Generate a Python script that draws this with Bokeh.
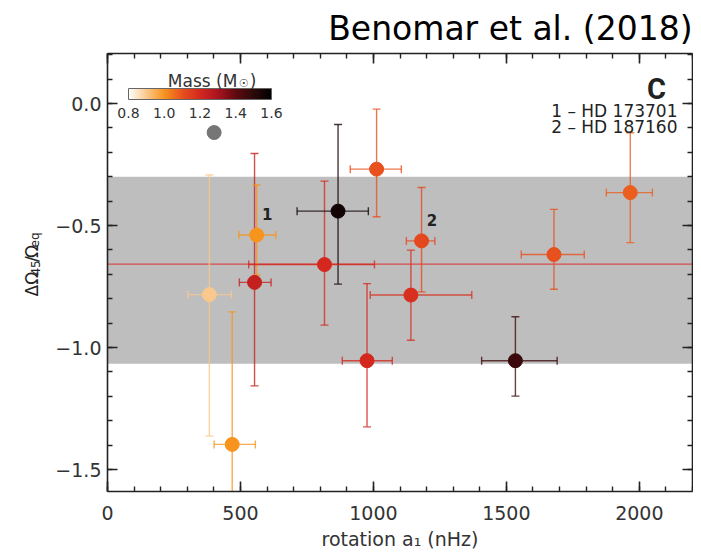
import numpy as np
from bokeh.plotting import figure
from bokeh.layouts import row
from bokeh.models import (ColumnDataSource, LinearAxis, SingleIntervalTicker, Range1d,
                          BoxAnnotation, Span, Label, ColorBar, LinearColorMapper,
                          FixedTicker, PrintfTickFormatter, CustomJSTickFormatter)
from bokeh.core.properties import value
from bokeh.embed import file_html
from bokeh.resources import INLINE

# ---------------- data ----------------
rotation = [383, 561, 553, 469, 816, 867, 1012, 976, 1181, 1141, 1679, 1966, 1534]
rot_lo   = [302, 494, 496, 401, 531, 713, 913, 883, 1124, 988, 1556, 1876, 1407]
rot_hi   = [466, 633, 615, 556, 1004, 981, 1105, 1071, 1231, 1370, 1793, 2049, 1691]
domega   = [-0.783, -0.539, -0.733, -1.397, -0.660, -0.441, -0.269, -1.054, -0.563, -0.785, -0.619, -0.365, -1.054]
dom_lo   = [-1.363, -0.703, -1.157, -1.950, -0.908, -0.740, -0.464, -1.325, -0.772, -0.970, -0.761, -0.570, -1.199]
dom_hi   = [-0.293, -0.334, -0.205, -0.854, -0.318, -0.086, -0.023, -0.738, -0.344, -0.601, -0.434, -0.120, -0.874]
mass     = [0.90, 1.00, 1.24, 1.00, 1.20, 1.56, 1.10, 1.20, 1.12, 1.18, 1.10, 1.08, 1.47]

gray_rot = [401]
gray_dom = [-0.119]

mean_dom = -0.658
band_top = -0.30
band_bottom = -1.066

star_labels = ["1", "2"]
star_idx = [1, 8]
legend_lines = ["1 – HD 173701", "2 – HD 187160"]

x_ticks_interval = 500
y_ticks = [0.0, -0.5, -1.0, -1.5]
y_tick_labels = ["0.0", "−0.5", "−1.0", "−1.5"]
cbar_ticks = [0.8, 1.0, 1.2, 1.4, 1.6]

# ---------------- colour map (white -> orange -> red -> black) ----------------
anch_m = [0.8, 0.9, 1.0, 1.1, 1.2, 1.3, 1.4, 1.5, 1.6]
anch_c = np.array([(255, 255, 255), (250, 200, 140), (247, 148, 30), (232, 80, 30),
                   (212, 40, 30), (170, 20, 32), (95, 10, 15), (45, 10, 10), (0, 0, 0)], float)

def cmap(m):
    return "#%02x%02x%02x" % tuple(int(round(np.interp(m, anch_m, anch_c[:, k]))) for k in range(3))

palette = [cmap(t) for t in np.linspace(0.8, 1.6, 256)]
mapper = LinearColorMapper(palette=palette, low=0.8, high=1.6)
colors = [cmap(m) for m in mass]

src = ColumnDataSource(dict(x=rotation, xlo=rot_lo, xhi=rot_hi,
                            y=domega, ylo=dom_lo, yhi=dom_hi, col=colors))

FONT = "DejaVu Sans"
TOTAL_H = 544
LAB_W = 50

p = figure(frame_width=585, frame_height=438,
           x_range=Range1d(0, 2200), y_range=Range1d(-1.59, 0.205),
           output_backend="svg", toolbar_location=None,
           min_border_left=107 - LAB_W, min_border_right=1, min_border_top=52, min_border_bottom=54)
p.xgrid.visible = False
p.ygrid.visible = False
p.outline_line_color = None
p.background_fill_color = "white"

p.title.text = "Benomar et al. (2018)"
p.title.align = "right"
p.title.text_font = FONT
p.title.text_font_style = "normal"
p.title.text_font_size = "33px"
p.title.text_color = "black"
p.title.standoff = 12

def style_axis(ax, ticker, labels=True):
    ax.ticker = ticker
    ax.axis_line_color = "#222222"
    ax.axis_line_width = 1.6
    ax.major_tick_line_color = "#222222"
    ax.minor_tick_line_color = "#222222"
    ax.major_tick_line_width = 1.6
    ax.minor_tick_line_width = 1.4
    ax.major_tick_in = 10
    ax.major_tick_out = 0
    ax.minor_tick_in = 5
    ax.minor_tick_out = 0
    ax.major_label_text_font = FONT
    ax.major_label_text_font_size = "19px"
    ax.major_label_text_color = "#333333"
    if not labels:
        ax.formatter = CustomJSTickFormatter(code="return ''")
        ax.major_label_standoff = 0
        ax.major_label_text_font_size = "0px"

xt = lambda: SingleIntervalTicker(interval=x_ticks_interval, num_minor_ticks=5)
yt = lambda: SingleIntervalTicker(interval=0.5, num_minor_ticks=5)

style_axis(p.xaxis[0], xt())
style_axis(p.yaxis[0], yt())
p.xaxis.major_label_standoff = 14
p.yaxis.major_label_standoff = 6
p.yaxis.major_label_overrides = {t: l for t, l in zip(y_ticks, y_tick_labels)}
p.xaxis.axis_label = "rotation a₁ (nHz)"
p.xaxis.axis_label_text_font = FONT
p.xaxis.axis_label_text_font_style = "normal"
p.xaxis.axis_label_text_font_size = "19px"
p.xaxis.axis_label_text_color = "#333333"
p.xaxis.axis_label_standoff = 5

top_ax = LinearAxis()
style_axis(top_ax, xt(), labels=False)
p.add_layout(top_ax, "above")
right_ax = LinearAxis()
style_axis(right_ax, yt(), labels=False)
p.add_layout(right_ax, "right")

# band and mean line
p.add_layout(BoxAnnotation(bottom=band_bottom, top=band_top, fill_color="#bebebe",
                           fill_alpha=1.0, line_color=None, level="underlay"))
p.add_layout(Span(location=mean_dom, dimension="width", line_color="#d94a4a",
                  line_width=1.4, level="underlay"))

# error bars
EB_A = 0.78
p.segment(x0="x", y0="ylo", x1="x", y1="yhi", source=src, line_color="col",
          line_alpha=EB_A, line_width=1.4)
p.segment(x0="xlo", y0="y", x1="xhi", y1="y", source=src, line_color="col",
          line_alpha=EB_A, line_width=1.4)
for xs, ys, ang in (("x", "ylo", 0.0), ("x", "yhi", 0.0), ("xlo", "y", np.pi / 2), ("xhi", "y", np.pi / 2)):
    p.scatter(x=xs, y=ys, source=src, marker="dash", size=8, angle=ang,
              line_color="col", line_alpha=EB_A, line_width=1.4, fill_color=None)

# points
p.scatter(x="x", y="y", source=src, size=14, fill_color="col", line_color="col")
p.scatter(x=gray_rot, y=gray_dom, size=14, fill_color="#757575", line_color="#757575")

# star labels
p.text(x=[rotation[i] for i in star_idx], y=[domega[i] for i in star_idx], text=star_labels,
       text_font=value(FONT), text_font_style="bold", text_font_size="15px",
       text_color="#222222", x_offset=10.5, y_offset=-21,
       text_align="center", text_baseline="middle")

# panel letter and legend
p.add_layout(Label(x=549, y=403, x_units="screen", y_units="screen", text="C",
                   text_align="center", text_baseline="alphabetic", text_font="Roboto",
                   text_font_style="bold", text_font_size="29px", text_color="#222222"))
for txt, yy in zip(legend_lines, [380.7, 365.0]):
    p.add_layout(Label(x=570, y=yy, x_units="screen", y_units="screen", text=txt,
                       text_align="right", text_baseline="alphabetic", text_font=FONT,
                       text_font_size="17px", text_color="#222222"))

# colour bar
cb = ColorBar(color_mapper=mapper, orientation="horizontal", width=143, height=11,
              location=(21, 371), padding=0, margin=0,
              ticker=FixedTicker(ticks=cbar_ticks), formatter=PrintfTickFormatter(format="%.1f"),
              label_standoff=8, major_label_text_font=FONT, major_label_text_font_size="14px",
              major_label_text_color="#333333", major_tick_line_color=None,
              minor_tick_line_color=None, bar_line_color="#666666", bar_line_width=1,
              border_line_color=None, background_fill_alpha=0.0)
p.add_layout(cb)
p.add_layout(Label(x=60.3, y=411, x_units="screen", y_units="screen", text="Mass (M",
                   text_align="left", text_baseline="alphabetic", text_font=FONT,
                   text_font_size="17px", text_color="#333333"))
p.add_layout(Label(x=131.3, y=408, x_units="screen", y_units="screen", text="☉",
                   text_align="left", text_baseline="alphabetic", text_font=FONT,
                   text_font_size="11px", text_color="#333333"))
p.add_layout(Label(x=142.3, y=411, x_units="screen", y_units="screen", text=")",
                   text_align="left", text_baseline="alphabetic", text_font=FONT,
                   text_font_size="17px", text_color="#333333"))

# ---------------- y axis label panel: ΔΩ_45 / Ω_eq (rotated) ----------------
lab = figure(width=LAB_W, height=TOTAL_H, x_range=Range1d(0, LAB_W), y_range=Range1d(0, TOTAL_H),
             output_backend="svg", toolbar_location=None, x_axis_location=None,
             y_axis_location=None, min_border=0, outline_line_color=None)
lab.xgrid.visible = False
lab.ygrid.visible = False
base_x = 31.3
y0 = TOTAL_H - 304
# (text, centre offset along the label, font size, baseline shift)
ylab = [("ΔΩ", 12.3, 17, 0.0), ("45", 32.75, 12, 3.5), ("/", 43.75, 17, 0.0),
        ("Ω", 53.6, 17, 0.0), ("eq", 68.1, 12, 3.5)]
for txt, dc, fs, dx in ylab:
    lab.add_layout(Label(x=base_x + dx, y=y0 + dc, text=txt, angle=np.pi / 2,
                         text_align="center", text_baseline="alphabetic",
                         text_font=FONT, text_font_size=f"{fs}px", text_color="#222222"))

layout = row(lab, p, spacing=0)
open("out.html", "w").write(file_html(layout, INLINE))
